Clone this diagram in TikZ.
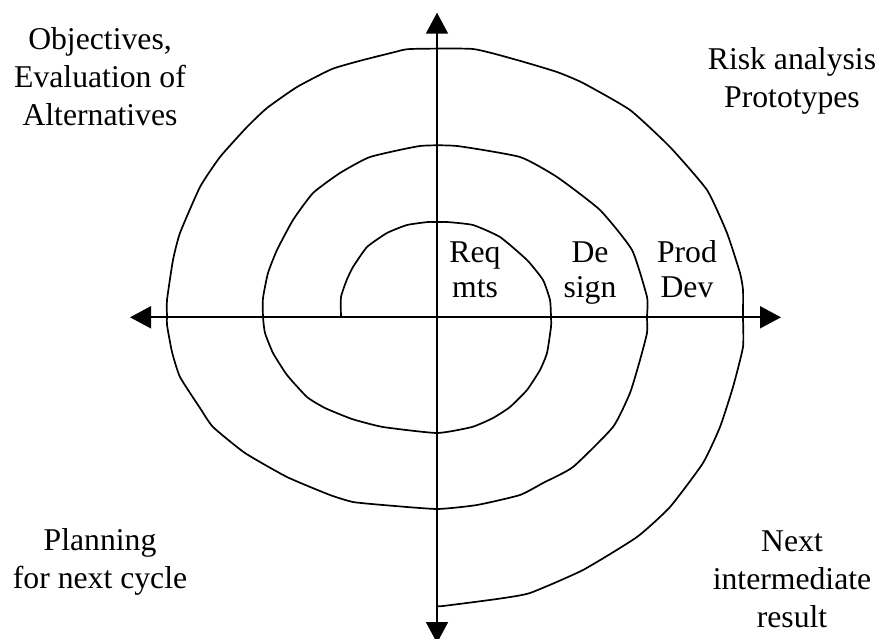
\documentclass[tikz,border=0pt]{standalone}
\usepackage{fontspec}
\setmainfont{Liberation Serif}
\usetikzlibrary{arrows.meta}

\begin{document}
\begin{tikzpicture}[x=1pt,y=-1pt,
  axis/.style={line width=1.8pt,{Triangle[length=21pt,width=22pt]}-{Triangle[length=21pt,width=22pt]}},
  lbl/.style={font=\fontsize{31.7pt}{38pt}\selectfont,align=center,inner sep=0pt,anchor=base}]
  \useasboundingbox (0,0) rectangle (877,639);
  \coordinate (w) at (130,317.3);
  \coordinate (e) at (781,317.3);
  \coordinate (n) at (437,12.7);
  \coordinate (s) at (437,643);
  \draw[axis] (w) -- (e);
  \draw[axis] (n) -- (s);
  \draw[line width=1.7pt,line join=round] plot[smooth,tension=0.3] coordinates {
    (341,317.3) (341,297) (346.7,280) (353,267) (367,247) (387,233) (407,225)
    (428,222) (437,222) (447,222) (473,225) (500,237) (527,260) (543,280)
    (550,300) (551,317) (551,327) (547,353) (540,370) (527,390) (510,407)
    (493,418) (472,427) (437,433) (383,427) (352,419) (325,408) (307,397)
    (287,375) (273,353) (265,333) (263,317) (263,298) (268,273) (277,250)
    (293,220) (313,193) (340,173) (370,157) (420,146) (457,146) (520,157)
    (557,177) (600,210) (632,250) (647,297) (647,317) (647,333) (640,360)
    (630,393) (613,427) (573,467) (543,483) (520,495) (477,505) (437,509)
    (383,505) (353,502) (330,495) (287,477) (245,453) (213,427) (200,408)
    (180,377) (172,352) (167,325) (167,317) (167,300) (173,260) (180,233)
    (200,187) (220,157) (247,127) (267,108) (297,87) (332,69) (363,60)
    (395,52) (410,49) (473,49) (517,60) (557,72) (583,83) (630,110)
    (670,147) (707,190) (727,233) (740,273) (743,290) (743,317) (743,347)
    (733,387) (720,427) (703,463) (670,507) (637,537) (583,570) (530,593)
    (497,599) (443,606) (437,606)};
  \node[lbl] (objectives) at (100,126) {Objectives,\\Evaluation of\\Alternatives};
  \node[lbl] (risk) at (792,108) {Risk analysis\\Prototypes};
  \node[lbl] (planning) at (100,588) {Planning\\for next cycle};
  \node[lbl] (next) at (792,627) {Next\\intermediate\\result};
  \node[lbl,font=\fontsize{31.7pt}{35pt}\selectfont] (reqmts) at (475,297) {Req\\mts};
  \node[lbl,font=\fontsize{31.7pt}{35pt}\selectfont] (design) at (590,297) {De\\sign};
  \node[lbl,font=\fontsize{31.7pt}{35pt}\selectfont] (proddev) at (687,297) {Prod\\Dev};
\end{tikzpicture}
\end{document}
